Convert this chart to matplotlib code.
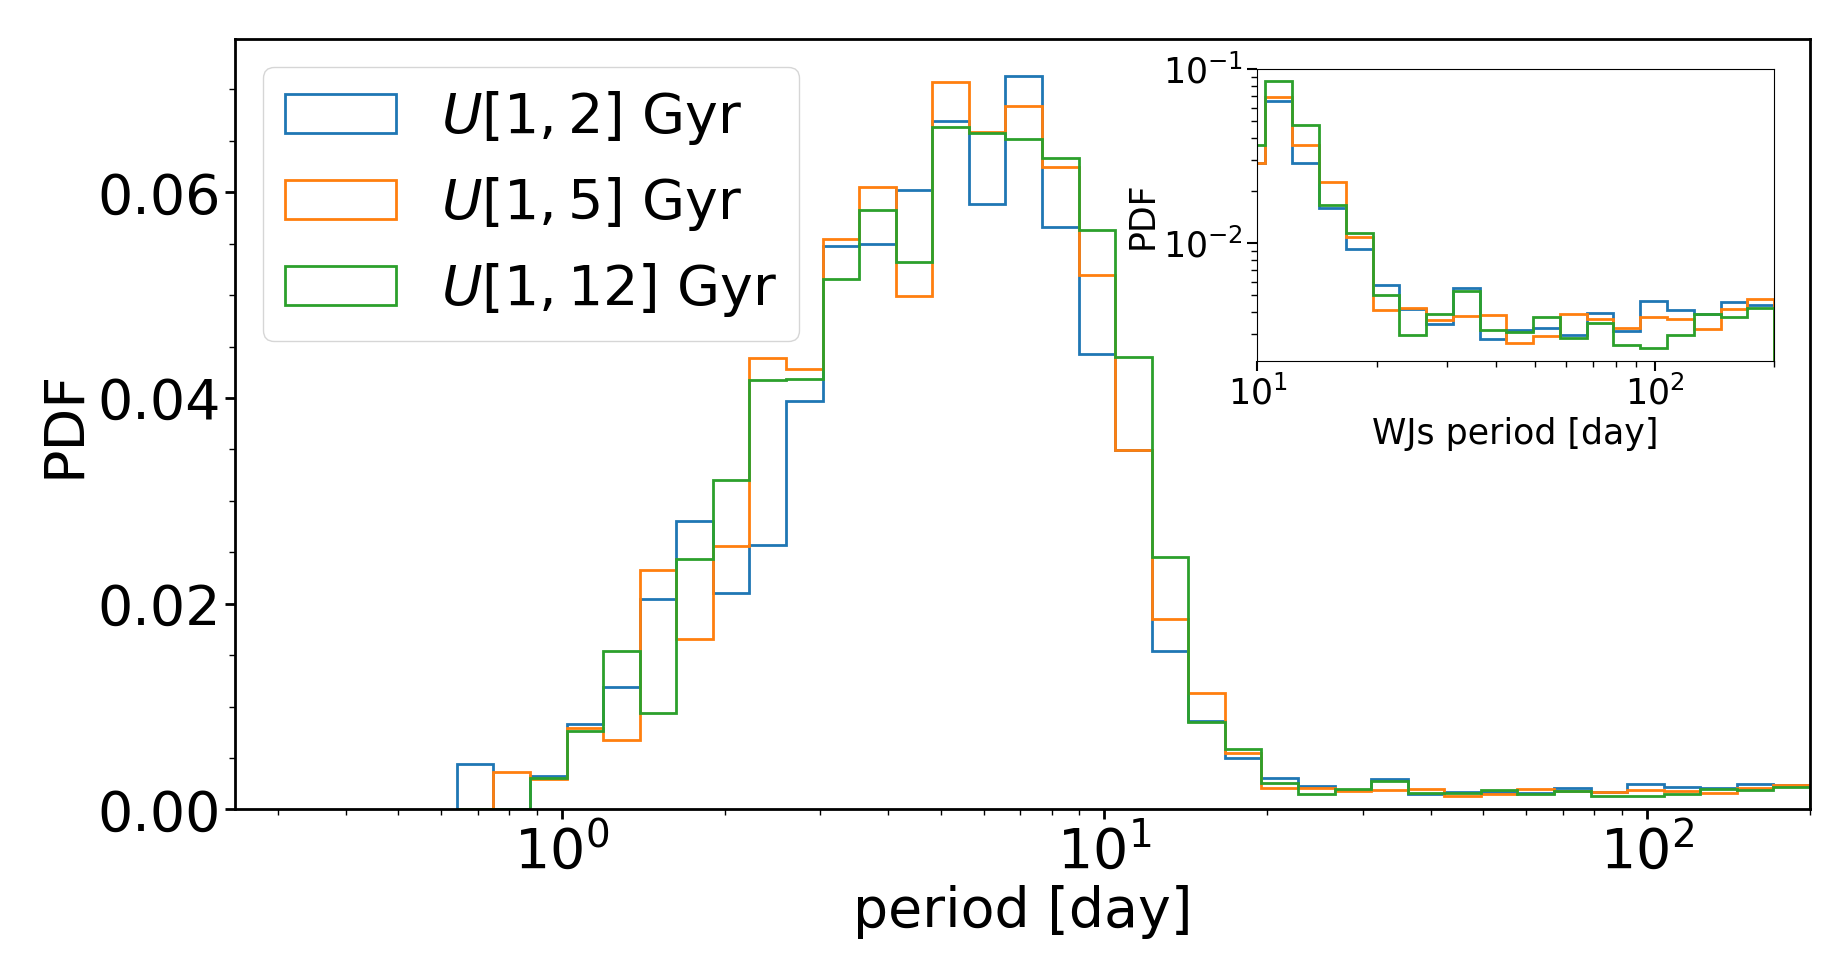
import numpy as np
import matplotlib
matplotlib.use('Agg')
import matplotlib.pyplot as plt
from matplotlib.ticker import AutoMinorLocator

# ---- data -------------------------------------------------------------
# common logarithmic bin edges [day] (37 bins from 0.641 d to 200 d)
bin_edges = np.logspace(np.log10(0.641), np.log10(200.0), 38)

labels = [r'$U[1, 2]$ Gyr', r'$U[1, 5]$ Gyr', r'$U[1, 12]$ Gyr']
colors = ['#1f77b4', '#ff7f0e', '#2ca02c']

# main panel: PDF per bin (37 bins)
pdf_u12 = [0.00441, 0.0, 0.00324, 0.00835, 0.01194, 0.02048, 0.02805, 0.02107,
           0.02572, 0.03973, 0.05477, 0.05493, 0.06027, 0.06697, 0.05891,
           0.07133, 0.05661, 0.04426, 0.03497, 0.0154, 0.0086, 0.0050, 0.0031,
           0.00226, 0.00185, 0.00296, 0.0015, 0.00169, 0.00174, 0.00159,
           0.00213, 0.00168, 0.0025, 0.0022, 0.0021, 0.00245, 0.00237]
pdf_u15 = [0.0, 0.0036, 0.0030, 0.00793, 0.0068, 0.0233, 0.0166, 0.0256,
           0.04387, 0.0428, 0.05548, 0.06053, 0.04988, 0.07071, 0.0659,
           0.06842, 0.06244, 0.05193, 0.03497, 0.0185, 0.01136, 0.00547,
           0.00208, 0.00213, 0.00181, 0.00192, 0.00195, 0.00134, 0.00147,
           0.00196, 0.00184, 0.00165, 0.00189, 0.00184, 0.00162, 0.0021,
           0.0024]
pdf_u112 = [0.0, 0.0, 0.00305, 0.00767, 0.01544, 0.00942, 0.02436, 0.0320,
            0.04177, 0.04183, 0.05154, 0.05829, 0.05318, 0.06638, 0.0658,
            0.06522, 0.06338, 0.05635, 0.0440, 0.0245, 0.0085, 0.00586,
            0.00258, 0.00152, 0.0020, 0.00272, 0.00162, 0.00158, 0.00192,
            0.00146, 0.00177, 0.00134, 0.00127, 0.00152, 0.0020, 0.00192,
            0.00218]

# inset (warm Jupiters): PDF for bins 17..36 of the same edges
inset_first_bin = 17
wj_u12 = [0.0287, 0.0651, 0.0287, 0.0159, 0.00927, 0.00575, 0.0042, 0.00344,
          0.0055, 0.0028, 0.00315, 0.00323, 0.00296, 0.00396, 0.00312,
          0.00465, 0.0041, 0.00391, 0.00456, 0.0044]
wj_u15 = [0.0287, 0.0686, 0.0364, 0.02248, 0.01082, 0.0041, 0.00421, 0.00359,
          0.00381, 0.00386, 0.00266, 0.00292, 0.00389, 0.00364, 0.00327,
          0.00374, 0.00364, 0.0032, 0.00416, 0.00475]
wj_u112 = [0.0364, 0.0849, 0.0475, 0.01663, 0.01141, 0.00503, 0.00296,
           0.00391, 0.0053, 0.00315, 0.00309, 0.00374, 0.00285, 0.00345,
           0.00261, 0.00248, 0.00296, 0.00391, 0.00374, 0.00425]

main_series = [pdf_u12, pdf_u15, pdf_u112]
inset_series = [wj_u12, wj_u15, wj_u112]

# ---- figure -----------------------------------------------------------
fig = plt.figure(figsize=(18.48, 9.77), dpi=100)
ax = fig.add_axes([0.1272, 0.1715, 0.8522, 0.7885])

centers = np.sqrt(bin_edges[:-1] * bin_edges[1:])
for vals, lab, c in zip(main_series, labels, colors):
    ax.hist(centers, bins=bin_edges, weights=vals, histtype='step',
            color=c, lw=2.0, label=lab)

ax.set_xscale('log')
ax.set_xlim(0.25, 200)
ax.set_ylim(bottom=0)
ax.yaxis.set_minor_locator(AutoMinorLocator(4))
ax.set_yticks([0.0, 0.02, 0.04, 0.06])
ax.set_yticklabels(['0.00', '0.02', '0.04', '0.06'])
ax.tick_params(axis='both', which='major', labelsize=40, length=7, width=2)
ax.tick_params(axis='both', which='minor', length=4, width=1)
for s in ax.spines.values():
    s.set_linewidth(2)
ax.set_xlabel('period [day]', fontsize=40, labelpad=4)
ax.set_ylabel('PDF', fontsize=40)
ax.legend(loc='upper left', fontsize=40)

# ---- inset ------------------------------------------------------------
axin = fig.add_axes([0.6804, 0.6305, 0.2796, 0.2989])
in_edges = bin_edges[inset_first_bin:]
in_centers = centers[inset_first_bin:]
for vals, c in zip(inset_series, colors):
    axin.hist(in_centers, bins=in_edges, weights=vals, histtype='step',
              color=c, lw=2.0, log=True)
axin.set_xscale('log')
axin.set_xlim(10, 200)
axin.set_ylim(2.1e-3, 1.0e-1)
axin.tick_params(axis='both', which='major', labelsize=25, length=7, width=1.5)
axin.tick_params(axis='both', which='minor', length=4, width=1)
axin.set_xlabel('WJs period [day]', fontsize=25)
axin.set_ylabel('PDF', fontsize=25, labelpad=2)

fig.savefig('out.png', dpi=100)
